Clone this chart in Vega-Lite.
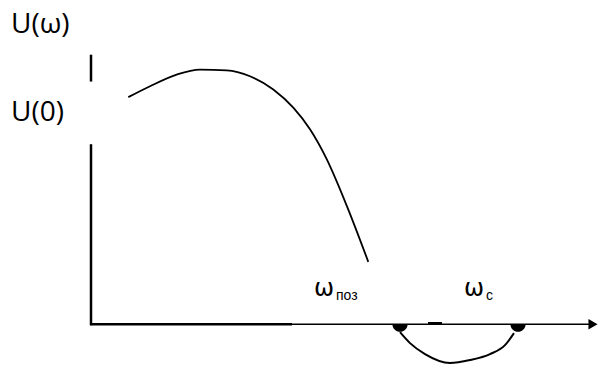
{
  "$schema": "https://vega.github.io/schema/vega-lite/v6.json",
  "width": 598,
  "height": 367,
  "padding": 0,
  "autosize": {"type": "fit", "contains": "padding"},
  "config": {"view": {"stroke": null}, "background": "white"},
  "encoding": {
    "x": {"type": "quantitative", "scale": {"domain": [-9.1, 50.7], "nice": false, "zero": false}, "axis": null},
    "y": {"type": "quantitative", "scale": {"domain": [-4.1, 32.6], "nice": false, "zero": false}, "axis": null}
  },
  "layer": [
    {
      "data": {"values": [
        {"w0": 0, "w1": 0, "u0": 27.1, "u1": 24.4},
        {"w0": 0, "w1": 0, "u0": 18.1, "u1": -0.1},
        {"w0": -0.1, "w1": 20.1, "u0": 0, "u1": 0},
        {"w0": 33.7, "w1": 35.1, "u0": 0.1, "u1": 0.1}
      ]},
      "mark": {"type": "rule", "color": "black", "strokeWidth": 2.5},
      "encoding": {
        "x": {"field": "w0", "type": "quantitative"},
        "x2": {"field": "w1"},
        "y": {"field": "u0", "type": "quantitative"},
        "y2": {"field": "u1"}
      }
    },
    {
      "data": {"values": [
        {"w0": 20.1, "w1": 49.9, "u0": 0, "u1": 0}
      ]},
      "mark": {"type": "rule", "color": "black", "strokeWidth": 1.6},
      "encoding": {
        "x": {"field": "w0", "type": "quantitative"},
        "x2": {"field": "w1"},
        "y": {"field": "u0", "type": "quantitative"},
        "y2": {"field": "u1"}
      }
    },
    {
      "data": {"values": [{"w": 50.2, "u": 0}]},
      "mark": {"type": "point", "shape": "triangle-right", "filled": true, "color": "black", "size": 110, "opacity": 1},
      "encoding": {
        "x": {"field": "w", "type": "quantitative"},
        "y": {"field": "u", "type": "quantitative"}
      }
    },
    {
      "data": {"values": [
        {"w": 3.73, "u": 22.83},
        {"w": 5.9, "u": 23.93},
        {"w": 8.57, "u": 25.1},
        {"w": 10.9, "u": 25.6},
        {"w": 13.57, "u": 25.53},
        {"w": 15.9, "u": 24.93},
        {"w": 18.23, "u": 23.6},
        {"w": 20.23, "u": 21.77},
        {"w": 21.9, "u": 19.6},
        {"w": 23.57, "u": 16.6},
        {"w": 25.57, "u": 11.93},
        {"w": 27.73, "u": 6.27}
      ]},
      "mark": {"type": "line", "color": "black", "strokeWidth": 1.8, "interpolate": "monotone"},
      "encoding": {
        "x": {"field": "w", "type": "quantitative"},
        "y": {"field": "u", "type": "quantitative"}
      }
    },
    {
      "data": {"values": [
        {"w": 30.9, "u": -0.8},
        {"w": 31.9, "u": -1.9},
        {"w": 33.4, "u": -3.0},
        {"w": 35.9, "u": -3.9},
        {"w": 37.9, "u": -3.6},
        {"w": 39.9, "u": -3.0},
        {"w": 41.4, "u": -2.1},
        {"w": 42.3, "u": -0.9}
      ]},
      "mark": {"type": "line", "color": "black", "strokeWidth": 2, "interpolate": "monotone"},
      "encoding": {
        "x": {"field": "w", "type": "quantitative"},
        "y": {"field": "u", "type": "quantitative"}
      }
    },
    {
      "data": {"values": [{"w": 30.9, "u": 0}, {"w": 42.7, "u": 0}]},
      "mark": {"type": "point", "shape": "M -1 0 A 1 1 0 0 0 1 0 Z", "filled": true, "color": "black", "size": 230, "opacity": 1},
      "encoding": {
        "x": {"field": "w", "type": "quantitative"},
        "y": {"field": "u", "type": "quantitative"}
      }
    },
    {
      "data": {"values": [
        {"w": -8.0, "u": 29.3, "label": "U(ω)"},
        {"w": -8.0, "u": 20.4, "label": "U(0)"}
      ]},
      "mark": {"type": "text", "font": "Open Sans", "fontSize": 28, "align": "left", "baseline": "alphabetic", "color": "black"},
      "encoding": {
        "x": {"field": "w", "type": "quantitative"},
        "y": {"field": "u", "type": "quantitative"},
        "text": {"field": "label"}
      }
    },
    {
      "data": {"values": [
        {"w": 22.3, "u": 2.8, "label": "ω"},
        {"w": 37.3, "u": 2.8, "label": "ω"}
      ]},
      "mark": {"type": "text", "font": "DejaVu Sans", "fontSize": 24, "align": "left", "baseline": "alphabetic", "color": "black"},
      "encoding": {
        "x": {"field": "w", "type": "quantitative"},
        "y": {"field": "u", "type": "quantitative"},
        "text": {"field": "label"}
      }
    },
    {
      "data": {"values": [
        {"w": 24.5, "u": 2.4, "label": "поз"},
        {"w": 39.5, "u": 2.4, "label": "c"}
      ]},
      "mark": {"type": "text", "font": "Liberation Sans", "fontSize": 14, "align": "left", "baseline": "alphabetic", "color": "black"},
      "encoding": {
        "x": {"field": "w", "type": "quantitative"},
        "y": {"field": "u", "type": "quantitative"},
        "text": {"field": "label"}
      }
    }
  ]
}
